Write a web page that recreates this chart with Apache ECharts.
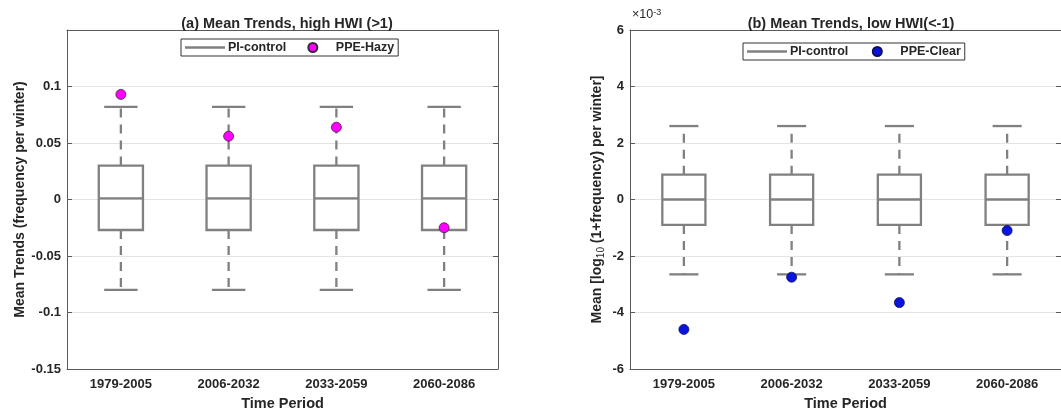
<!DOCTYPE html>
<html>
<head>
<meta charset="utf-8">
<script src="https://cdn.jsdelivr.net/npm/echarts@6/dist/echarts.min.js"></script>
<style>
html,body{margin:0;padding:0;background:#fff;}
#chart{width:1061px;height:416px;}
</style>
</head>
<body>
<div id="chart"></div>
<script>
// ---- data ----
const periods = ['1979-2005', '2006-2032', '2033-2059', '2060-2086'];
// panel (a): PI-control box statistics [min, q1, median, q3, max]
const piHighMin = [-0.080, -0.080, -0.080, -0.080];
const piHighQ1 = [-0.027, -0.027, -0.027, -0.027];
const piHighMed = [0.001, 0.001, 0.001, 0.001];
const piHighQ3 = [0.030, 0.030, 0.030, 0.030];
const piHighMax = [0.082, 0.082, 0.082, 0.082];
const ppeHazy = [0.093, 0.056, 0.064, -0.025];
// panel (b): values in units of 1e-3
const piLowMin = [-2.65, -2.65, -2.65, -2.65];
const piLowQ1 = [-0.9, -0.9, -0.9, -0.9];
const piLowMed = [0.0, 0.0, 0.0, 0.0];
const piLowQ3 = [0.88, 0.88, 0.88, 0.88];
const piLowMax = [2.6, 2.6, 2.6, 2.6];
const ppeClear = [-4.6, -2.75, -3.65, -1.1];
const yTicksA = [-0.15, 0.15, 0.05];
const yTicksB = [-6, 6, 2];

const FONT = "'Liberation Sans', Arial, Helvetica, sans-serif";
const GRAY = '#808080';
const AXIS = '#5a5a5a';
const TXT = '#262626';

function boxData(mn, q1, md, q3, mx) {
  return periods.map((p, i) => [i, mn[i], q1[i], md[i], q3[i], mx[i]]);
}

function boxRenderer(boxFrac, capFrac) {
  return function (params, api) {
    const idx = api.value(0);
    const lo = api.coord([idx, api.value(1)]);
    const q1 = api.coord([idx, api.value(2)]);
    const md = api.coord([idx, api.value(3)]);
    const q3 = api.coord([idx, api.value(4)]);
    const hi = api.coord([idx, api.value(5)]);
    const bw = api.size([1, 0])[0];
    const hw = bw * boxFrac / 2, cw = bw * capFrac / 2;
    const x = lo[0];
    const st = { stroke: GRAY, lineWidth: 2.3, fill: null };
    const dash = { stroke: GRAY, lineWidth: 2.3, fill: null, lineDash: [9, 7] };
    return {
      type: 'group',
      children: [
        { type: 'line', shape: { x1: x, y1: q3[1], x2: x, y2: hi[1] }, style: dash },
        { type: 'line', shape: { x1: x, y1: q1[1], x2: x, y2: lo[1] }, style: dash },
        { type: 'line', shape: { x1: x - cw, y1: hi[1], x2: x + cw, y2: hi[1] }, style: st },
        { type: 'line', shape: { x1: x - cw, y1: lo[1], x2: x + cw, y2: lo[1] }, style: st },
        { type: 'rect', shape: { x: x - hw, y: q3[1], width: 2 * hw, height: q1[1] - q3[1] }, style: st },
        { type: 'line', shape: { x1: x - hw, y1: md[1], x2: x + hw, y2: md[1] }, style: st }
      ]
    };
  };
}

const chart = echarts.init(document.getElementById('chart'), null, { renderer: 'canvas' });

function xAxes(gi) {
  return [
    {
      type: 'category', gridIndex: gi, data: periods, position: 'bottom',
      name: 'Time Period', nameLocation: 'middle', nameGap: 27,
      nameTextStyle: { fontFamily: FONT, fontWeight: 'bold', fontSize: 14.5, color: TXT },
      axisLine: { onZero: false, lineStyle: { color: AXIS, width: 1 } },
      axisTick: { alignWithLabel: true, inside: true, length: 5, lineStyle: { color: AXIS } },
      axisLabel: { fontFamily: FONT, fontWeight: 'bold', fontSize: 13, color: TXT, margin: 9 },
      splitLine: { show: false }
    },
    {
      type: 'category', gridIndex: gi, data: periods, position: 'top',
      axisLine: { onZero: false, lineStyle: { color: AXIS, width: 1 } },
      axisTick: { alignWithLabel: true, inside: true, length: 5, lineStyle: { color: AXIS } },
      axisLabel: { show: false }, splitLine: { show: false }
    }
  ];
}

function yAxes(gi, ticks, name, nameGap, fmt, rich) {
  const ns = { fontFamily: FONT, fontWeight: 'bold', fontSize: 14, color: TXT };
  if (rich) ns.rich = rich;
  return [
    {
      type: 'value', gridIndex: gi, position: 'left', min: ticks[0], max: ticks[1], interval: ticks[2],
      name: name, nameLocation: 'middle', nameGap: nameGap, nameTextStyle: ns,
      axisLine: { show: true, onZero: false, lineStyle: { color: AXIS, width: 1 } },
      axisTick: { show: true, inside: true, length: 5, lineStyle: { color: AXIS } },
      axisLabel: { fontFamily: FONT, fontWeight: 'bold', fontSize: 13, color: TXT, margin: 6, formatter: fmt },
      splitLine: { show: true, lineStyle: { color: '#e4e4e4', width: 1 } }
    },
    {
      type: 'value', gridIndex: gi, position: 'right', min: ticks[0], max: ticks[1], interval: ticks[2],
      axisLine: { show: true, onZero: false, lineStyle: { color: AXIS, width: 1 } },
      axisTick: { show: true, inside: true, length: 5, lineStyle: { color: AXIS } },
      axisLabel: { show: false }, splitLine: { show: false }
    }
  ];
}

const CIRCLE_ICON = 'path://M0,5a5,5 0 1,0 10,0a5,5 0 1,0 -10,0Z';
const LINE_ICON = 'path://M0,0L40,0L40,2.3L0,2.3Z';

function legendOf(left, top, names, gap) {
  return {
    left: left, top: top, orient: 'horizontal',
    padding: [2, 4, 2, 4], itemGap: gap, itemWidth: 40, itemHeight: 9,
    borderColor: '#333', borderWidth: 1, backgroundColor: '#fff',
    textStyle: { fontFamily: FONT, fontWeight: 'bold', fontSize: 12.5, color: TXT, padding: [0, 0, 0, -2] },
    data: [
      { name: names[0], icon: LINE_ICON },
      { name: names[1], icon: CIRCLE_ICON }
    ],
    selectedMode: false
  };
}

const option = {
  animation: false,
  backgroundColor: '#fff',
  title: [
    { text: '(a) Mean Trends, high HWI (>1)', left: 282, top: 11, textAlign: 'center',
      textStyle: { fontFamily: FONT, fontWeight: 'bold', fontSize: 14.5, color: TXT } },
    { text: '(b) Mean Trends, low HWI(<-1)', left: 846, top: 11, textAlign: 'center',
      textStyle: { fontFamily: FONT, fontWeight: 'bold', fontSize: 14.5, color: TXT } }
  ],
  legend: [
    legendOf(181, 39, ['PI-control', 'PPE-Hazy'], 21),
    legendOf(743, 43, ['PI-control ', 'PPE-Clear'], 20)
  ],
  grid: [
    { left: 67, top: 30, width: 431, height: 344, show: false },
    { left: 630, top: 30, width: 431, height: 344, show: false }
  ],
  xAxis: [...xAxes(0), ...xAxes(1)],
  yAxis: [
    ...yAxes(0, yTicksA, 'Mean Trends (frequency per winter)', 40,
      v => (Math.abs(v - 0.15) < 1e-9 ? '' : String(+v.toFixed(2)))),
    ...yAxes(1, yTicksB, '{n|Mean [log}{s|10}{n| (1+frequency) per winter]}', 24,
      v => String(v),
      {
        n: { fontFamily: FONT, fontWeight: 'bold', fontSize: 14, color: TXT, lineHeight: 16, verticalAlign: 'top' },
        s: { fontFamily: FONT, fontWeight: 'normal', fontSize: 10, color: TXT, lineHeight: 6, verticalAlign: 'bottom' }
      })
  ],
  graphic: [
    {
      type: 'text', left: 632, top: 8,
      style: {
        text: '×10{s|-3}', fontFamily: FONT, fontSize: 12.5, fill: TXT,
        rich: { s: { fontSize: 9, verticalAlign: 'top', lineHeight: 10, fill: TXT, fontFamily: FONT } }
      }
    }
  ],
  series: [
    {
      name: 'PI-control', type: 'custom', xAxisIndex: 0, yAxisIndex: 0,
      itemStyle: { color: GRAY },
      renderItem: boxRenderer(0.41, 0.31),
      encode: { x: 0, y: [1, 2, 3, 4, 5] },
      data: boxData(piHighMin, piHighQ1, piHighMed, piHighQ3, piHighMax), z: 2
    },
    {
      name: 'PPE-Hazy', type: 'scatter', xAxisIndex: 0, yAxisIndex: 0,
      symbol: 'circle', symbolSize: 10,
      itemStyle: { color: '#ff00ff', borderColor: '#3a2a3a', borderWidth: 0.8, opacity: 1 },
      data: ppeHazy, z: 5
    },
    {
      name: 'PI-control ', type: 'custom', xAxisIndex: 2, yAxisIndex: 2,
      itemStyle: { color: GRAY },
      renderItem: boxRenderer(0.40, 0.27),
      encode: { x: 0, y: [1, 2, 3, 4, 5] },
      data: boxData(piLowMin, piLowQ1, piLowMed, piLowQ3, piLowMax), z: 2
    },
    {
      name: 'PPE-Clear', type: 'scatter', xAxisIndex: 2, yAxisIndex: 2,
      symbol: 'circle', symbolSize: 10,
      itemStyle: { color: '#0a14e0', borderColor: '#101050', borderWidth: 0.8, opacity: 1 },
      data: ppeClear, z: 5
    }
  ]
};
chart.setOption(option);
</script>
</body>
</html>
